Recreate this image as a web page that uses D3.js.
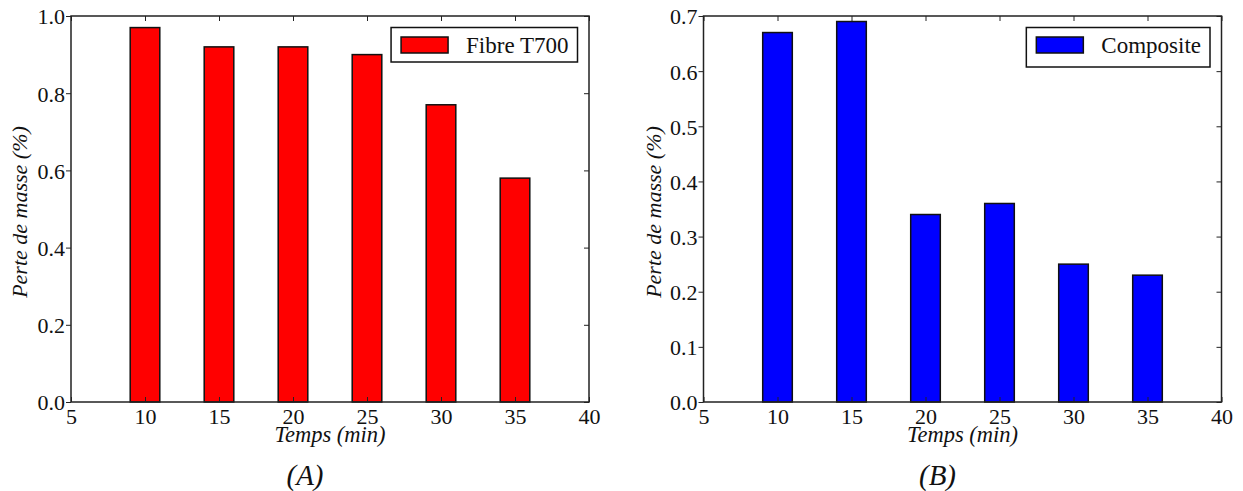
<!DOCTYPE html>
<html>
<head>
<meta charset="utf-8">
<script src="https://cdn.jsdelivr.net/npm/d3@7"></script>
<style>
  html, body { margin: 0; padding: 0; background: #fff; }
  svg { display: block; }
</style>
</head>
<body>
<svg id="chart" width="1243" height="491"></svg>
<script>
// ---- data ----
const times = [10, 15, 20, 25, 30, 35];
const fibreT700 = [0.97, 0.92, 0.92, 0.90, 0.77, 0.58];
const composite = [0.67, 0.69, 0.34, 0.36, 0.25, 0.23];
const xTicks = [5, 10, 15, 20, 25, 30, 35, 40];
const yTicksA = [0.0, 0.2, 0.4, 0.6, 0.8, 1.0];
const yTicksB = [0.0, 0.1, 0.2, 0.3, 0.4, 0.5, 0.6, 0.7];
const seriesNames = ["Fibre T700", "Composite"];
const panelLabels = ["(A)", "(B)"];
const xLabel = "Temps (min)";
const yLabel = "Perte de masse (%)";
const barWidthUnits = 2;

const FONT = '"Liberation Serif", "Times New Roman", Times, serif';
const svg = d3.select("#chart");

function panel(opts) {
  const { left, right, top, bottom, values, yMax, yTicks, color, name, label, yLabelX } = opts;
  const g = svg.append("g");
  const x = d3.scaleLinear().domain([5, 40]).range([left, right]);
  const y = d3.scaleLinear().domain([0, yMax]).range([bottom, top]);
  const fmt = d3.format(".1f");

  // bars
  g.selectAll("rect.bar").data(times).join("rect")
    .attr("class", "bar")
    .attr("x", d => x(d - barWidthUnits / 2))
    .attr("width", d => x(d + barWidthUnits / 2) - x(d - barWidthUnits / 2))
    .attr("y", (d, i) => y(values[i]))
    .attr("height", (d, i) => y(0) - y(values[i]))
    .attr("fill", color)
    .attr("stroke", "#111")
    .attr("stroke-width", 1.5);

  // axes
  const axBottom = d3.axisBottom(x).tickValues(xTicks).tickSize(-5).tickPadding(6).tickFormat(d3.format("d"));
  const axTop = d3.axisTop(x).tickValues(xTicks).tickSize(-5).tickFormat("");
  const axLeft = d3.axisLeft(y).tickValues(yTicks).tickSize(5).tickPadding(1).tickFormat(fmt);
  const axRight = d3.axisRight(y).tickValues(yTicks).tickSize(-5).tickFormat("");

  const styleAxis = sel => {
    sel.attr("font-family", null).attr("font-size", null);
    sel.select(".domain").remove();
    sel.selectAll("line").attr("stroke", "#222").attr("stroke-width", 1);
    sel.selectAll("text").style("font-family", FONT)
      .style("font-size", "22px").attr("fill", "#111");
  };
  g.append("g").attr("transform", `translate(0,${bottom})`).call(axBottom).call(styleAxis)
    .selectAll("text").attr("dy", "0.71em");
  g.append("g").attr("transform", `translate(0,${top})`).call(axTop).call(styleAxis);
  g.append("g").attr("transform", `translate(${left},0)`).call(axLeft).call(styleAxis)
    .selectAll("text").attr("dy", "0.36em");
  g.append("g").attr("transform", `translate(${right},0)`).call(axRight).call(styleAxis);

  // frame
  g.append("rect").attr("x", left).attr("y", top)
    .attr("width", right - left).attr("height", bottom - top)
    .attr("fill", "none").attr("stroke", "#222").attr("stroke-width", 1.5);

  // axis labels
  g.append("text").attr("x", (left + right) / 2).attr("y", 442)
    .attr("text-anchor", "middle").style("font-family", FONT).style("font-style", "italic")
    .style("font-size", "22.5px").attr("fill", "#111")
    .text(xLabel);
  g.append("text")
    .attr("transform", `translate(${yLabelX},${(top + bottom) / 2 + 3}) rotate(-90)`)
    .attr("text-anchor", "middle").style("font-family", FONT).style("font-style", "italic")
    .style("font-size", "22px").attr("fill", "#111")
    .text(yLabel);

  // panel label
  g.append("text").attr("x", (left + right) / 2 - 25).attr("y", 485)
    .attr("text-anchor", "middle").style("font-family", FONT).style("font-style", "italic")
    .style("font-size", "29px").attr("fill", "#111")
    .text(label);

  // legend
  const lg = g.append("g");
  const lt = lg.append("text").style("font-family", FONT).style("font-size", "23px")
    .attr("fill", "#111").text(name);
  const tw = lt.node().getComputedTextLength();
  const boxW = 10 + 47 + 18 + tw + 9;
  const boxR = right - 11.5;
  const boxL = boxR - boxW;
  const boxT = top + 11.5;
  const boxH = opts.legendH;
  lg.insert("rect", "text").attr("x", boxL).attr("y", boxT).attr("width", boxW).attr("height", boxH)
    .attr("fill", "#fff").attr("stroke", "#111").attr("stroke-width", 1.5);
  lg.insert("rect", "text").attr("x", boxL + 10).attr("y", boxT + 9.5).attr("width", 47).attr("height", 16)
    .attr("fill", color).attr("stroke", "#111").attr("stroke-width", 1.5);
  lt.attr("x", boxL + 10 + 47 + 18).attr("y", boxT + 25.5);
}

panel({ left: 71, right: 589, top: 16, bottom: 402, values: fibreT700, yMax: 1.0, yTicks: yTicksA,
        color: "#ff0000", name: seriesNames[0], label: panelLabels[0], yLabelX: 27, legendH: 34.5 });
panel({ left: 703.5, right: 1221.5, top: 16, bottom: 402, values: composite, yMax: 0.7, yTicks: yTicksB,
        color: "#0000ff", name: seriesNames[1], label: panelLabels[1], yLabelX: 661, legendH: 39.5 });
</script>
</body>
</html>
